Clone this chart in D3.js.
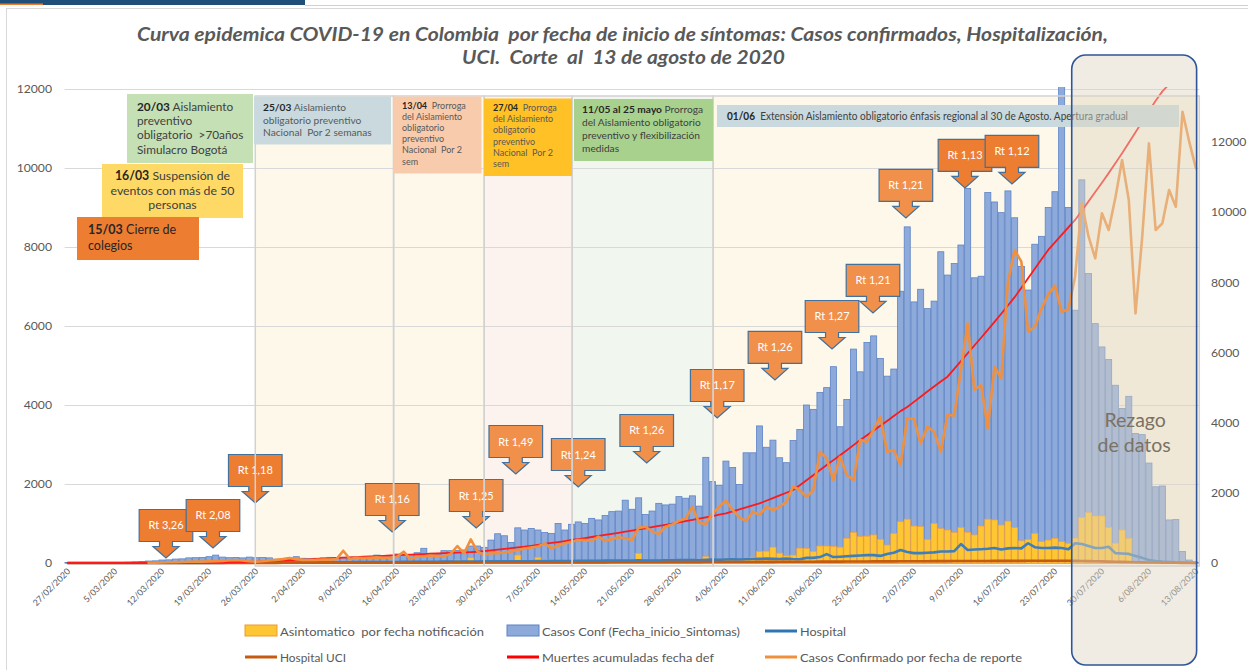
<!DOCTYPE html>
<html>
<head>
<meta charset="utf-8">
<script src="https://cdnjs.cloudflare.com/ajax/libs/d3/7.8.5/d3.min.js"></script>
<style>
  body { margin: 0; background: #fff; }
  svg { display: block; font-family: Lato, "Open Sans", sans-serif; }
</style>
</head>
<body>
<svg id="chart" width="1248" height="670"></svg>
<script>
// ---- datos (un valor por dia, 27/02/2020 .. 13/08/2020) ----
var fechaInicio = new Date(2020, 1, 27);
var numDias = 169;

var casosConf = [
  12, 0, 2, 1, 3, 4, 6, 10, 14, 20,
  28, 38, 50, 55, 76, 80, 100, 105, 130, 135,
  140, 160, 200, 150, 135, 140, 130, 150, 135, 140,
  130, 95, 90, 88, 160, 120, 115, 120, 130, 143,
  140, 145, 150, 148, 150, 155, 200, 177, 180, 228,
  200, 210, 260, 372, 245, 228, 312, 311, 320, 330,
  430, 430, 397, 580, 740, 690, 520, 890, 835, 875,
  835, 770, 750, 1000, 835, 980, 1040, 1000, 1130, 1090,
  1200, 1300, 1315, 1590, 1360, 1650, 1230, 1315, 1510, 1470,
  1490, 1680, 1640, 1700, 1440, 2675, 2060, 1960, 2580, 2420,
  1990, 2790, 2790, 3470, 2930, 3110, 2665, 2540, 3100, 3380,
  4000, 3890, 4320, 4440, 4970, 3450, 4140, 5415, 4840, 5585,
  5750, 5180, 4730, 4910, 6880, 8510, 6610, 6930, 6440, 6630,
  7880, 7290, 7580, 8050, 9480, 7220, 7260, 9380, 9140, 8870,
  9420, 8740, 7510, 6910, 8070, 8270, 9000, 9400, 12500, 9000,
  6400, 9700, 7330, 6060, 5470, 5150, 4500, 3910, 4220, 3280,
  3250, 2530, 1930, 1950, 1090, 1100, 290, 75, 20
];

var asintomaticos = [
  0, 0, 0, 0, 0, 0, 0, 0, 0, 0,
  0, 0, 0, 0, 0, 0, 0, 0, 0, 0,
  0, 0, 0, 0, 0, 0, 0, 0, 0, 0,
  0, 0, 0, 0, 0, 0, 0, 0, 0, 0,
  0, 0, 0, 0, 0, 0, 0, 0, 0, 0,
  5, 5, 5, 10, 5, 5, 10, 20, 80, 20,
  130, 40, 20, 60, 30, 40, 30, 200, 40, 50,
  145, 90, 40, 30, 40, 50, 60, 40, 50, 40,
  60, 50, 70, 60, 80, 245, 60, 50, 60, 70,
  60, 80, 70, 80, 60, 160, 70, 80, 100, 90,
  80, 120, 150, 290, 300, 400, 250, 180, 200, 375,
  370, 290, 430, 430, 420, 400, 625, 770, 670, 680,
  710, 600, 455, 750, 1045, 1110, 935, 920, 600, 1000,
  870, 835, 770, 900, 775, 710, 935, 1110, 1090, 960,
  1060, 895, 560, 600, 750, 540, 580, 625, 540, 500,
  630, 1155, 1275, 1190, 1190, 900, 500, 835, 625, 0,
  0, 0, 0, 0, 0, 0, 0, 0, 0
];

var hospital = [
  0, 0, 0, 0, 0, 0, 0, 0, 0, 0,
  0, 0, 0, 0, 0, 0, 0, 0, 0, 0,
  2, 3, 3, 4, 5, 5, 6, 7, 8, 8,
  10, 10, 12, 12, 14, 14, 15, 16, 16, 18,
  18, 20, 20, 22, 22, 24, 24, 25, 26, 26,
  28, 28, 30, 30, 32, 32, 34, 34, 36, 36,
  38, 38, 40, 40, 42, 42, 44, 44, 46, 46,
  48, 48, 50, 50, 52, 52, 54, 55, 56, 58,
  60, 60, 62, 62, 65, 68, 65, 62, 65, 68,
  70, 72, 75, 75, 70, 80, 85, 80, 90, 95,
  90, 95, 100, 105, 110, 105, 100, 110, 100, 95,
  130, 130, 150, 225, 150, 160, 170, 180, 190, 200,
  200, 180, 230, 260, 330, 280, 250, 250, 260, 270,
  290, 290, 300, 480, 330, 340, 350, 360, 380, 340,
  370, 380, 370, 500, 400, 380, 380, 390, 380, 350,
  500, 480, 430, 380, 380, 410, 250, 240, 230, 180,
  130, 75, 50, 35, 25, 15, 10, 5, 3
];

var hospitalUci = [
  0, 0, 0, 0, 0, 0, 0, 0, 0, 0,
  0, 0, 0, 0, 0, 0, 0, 0, 0, 0,
  1, 1, 1, 2, 2, 2, 3, 3, 3, 4,
  4, 4, 5, 5, 5, 5, 6, 6, 6, 6,
  7, 7, 7, 7, 8, 8, 8, 8, 9, 9,
  9, 9, 10, 10, 10, 10, 10, 11, 11, 11,
  11, 12, 12, 12, 12, 13, 13, 13, 13, 14,
  14, 14, 15, 15, 15, 16, 16, 16, 17, 17,
  17, 18, 18, 18, 19, 19, 20, 20, 20, 21,
  21, 22, 22, 23, 23, 24, 24, 25, 25, 26,
  26, 27, 27, 28, 28, 29, 30, 30, 31, 32,
  32, 33, 34, 35, 35, 36, 37, 38, 38, 39,
  40, 40, 41, 42, 43, 44, 44, 45, 46, 47,
  48, 48, 49, 50, 50, 51, 52, 52, 53, 54,
  54, 55, 55, 56, 56, 57, 57, 58, 58, 58,
  55, 52, 48, 44, 40, 36, 32, 28, 24, 20,
  17, 14, 11, 9, 7, 5, 4, 3, 2
];

var muertesAcum = [
  0, 0, 0, 0, 0, 0, 0, 0, 0, 0,
  0, 0, 0, 0, 0, 0, 0, 0, 1, 2,
  4, 6, 9, 12, 16, 20, 25, 30, 36, 42,
  48, 55, 62, 70, 78, 86, 94, 102, 110, 118,
  126, 134, 142, 150, 158, 166, 174, 182, 190, 198,
  206, 213, 220, 227, 234, 241, 248, 255, 262, 269,
  277, 285, 302, 320, 338, 356, 375, 394, 413, 436,
  459, 483, 507, 531, 556, 582, 607, 632, 658, 684,
  710, 737, 765, 793, 822, 851, 880, 909, 939, 968,
  998, 1028, 1058, 1089, 1122, 1155, 1189, 1223, 1258, 1307,
  1357, 1408, 1459, 1511, 1576, 1642, 1710, 1779, 1848, 1970,
  2095, 2223, 2355, 2480, 2605, 2730, 2855, 2985, 3114, 3235,
  3355, 3475, 3595, 3720, 3845, 3950, 4080, 4210, 4340, 4470,
  4595, 4717, 4915, 5112, 5310, 5507, 5703, 5900, 6105, 6310,
  6520, 6730, 6970, 7210, 7450, 7690, 7925, 8115, 8305, 8495,
  8685, 8920, 9155, 9390, 9625, 9870, 10120, 10373, 10640, 10905,
  11170, 11435, 11700, 11940, 12120, 12300, 12480, 12650, 12800
];

// casos por fecha de reporte (eje derecho); sin trazo antes del 10/03
var casosReporte = [
  null, null, null, null, null, null, null, null, null, null,
  null, null, 5, 10, 15, 20, 25, 30, 35, 40,
  40, 45, 50, 60, 80, 85, 70, 50, 40, 50,
  70, 90, 110, 140, 110, 90, 85, 90, 100, 95,
  110, 350, 110, 150, 140, 150, 160, 150, 150, 180,
  322, 114, 180, 190, 210, 200, 190, 260, 484, 276,
  675, 322, 228, 276, 280, 300, 330, 370, 410, 440,
  470, 560, 420, 493, 560, 607, 655, 655, 627, 750,
  630, 680, 732, 703, 655, 1000, 1034, 900, 826, 1034,
  1100, 1200, 1273, 1603, 1148, 1110, 1415, 1600, 1774, 1509,
  1300, 1196, 1461, 1367, 1603, 1509, 1600, 1746, 2173, 2080,
  1888, 2080, 3170, 2980, 2364, 3027, 2506, 2364, 3503, 3455,
  3800, 4167, 3170, 3218, 2791, 4121, 4100, 3409, 3882, 3739,
  3170, 4215, 4200, 5500, 6827, 4927, 5070, 3836, 5591, 5260,
  8012, 8914, 8581, 6588, 6730, 7250, 7650, 7900, 7157, 7225,
  8154, 10244, 9300, 8678, 9960, 9484, 10400, 11477, 10338, 7111,
  9293, 11950, 9484, 9675, 10623, 10147, 12853, 12000, 11240
];

var ticksIzq = [0, 2000, 4000, 6000, 8000, 10000, 12000];
var ticksDer = [0, 2000, 4000, 6000, 8000, 10000, 12000];

// flechas Rt: dia (desde 27/02) y nivel (eje izq.) de la punta
var rtTexto = ["Rt 3,26", "Rt 2,08", "Rt 1,18", "Rt 1,16", "Rt 1,25", "Rt 1,49", "Rt 1,24", "Rt 1,26",
  "Rt 1,17", "Rt 1,26", "Rt 1,27", "Rt 1,21", "Rt 1,21", "Rt 1,13", "Rt 1,12"];
var rtDia = [15.1, 22.1, 28.4, 48.8, 61.3, 67.2, 76.5, 86.7, 97.2, 105.8, 114.3, 120.4, 125.3, 134.1, 141.1];
var rtNivel = [127, 380, 1519, 785, 886, 2253, 1924, 2532, 3671, 4634, 5418, 6330, 8735, 9495, 9596];

// periodos sombreados (dias desde 27/02)
var periodoIni = [28.4, 49.0, 62.5, 75.6, 96.6];
var periodoFin = [49.0, 62.5, 75.6, 96.6, 169];
var rezagoIni = 150, rezagoFin = 168.6;

var leyenda = ["Asintomatico  por fecha notificación", "Casos Conf (Fecha_inicio_Sintomas)", "Hospital",
  "Hospital UCI", "Muertes acumuladas fecha def", "Casos Confirmado por fecha de reporte"];

// ---- escalas ----
var svg = d3.select("#chart");
var plotL = 64.6, plotR = 1199.3, yTop = 89, yBase = 563;
var fechas = d3.timeDay.range(fechaInicio, d3.timeDay.offset(fechaInicio, numDias));
var fmtFecha = d3.timeFormat("%-d/%m/%Y");

var x = d3.scaleBand().domain(d3.range(numDias)).range([plotL, plotR]).paddingInner(0.1).paddingOuter(0.05);
var xDia = d3.scaleLinear().domain([0, numDias]).range([plotL, plotR]);
var yL = d3.scaleLinear().domain([0, 12000]).range([yBase, yTop]);
var yR = d3.scaleLinear().domain([0, 13500]).range([yBase, yTop]);
function cx(i) { return x(i) + x.bandwidth() / 2; }

svg.append("defs").append("clipPath").attr("id", "plotClip")
  .append("rect").attr("x", plotL - 3).attr("y", 87).attr("width", plotR - plotL + 6).attr("height", 482);

// marco y barra superior
svg.append("rect").attr("x", 6.5).attr("y", 8.5).attr("width", 1260).attr("height", 680)
  .attr("fill", "none").attr("stroke", "#d9d9d9");
svg.append("rect").attr("x", 0).attr("y", 0).attr("width", 305).attr("height", 5).attr("fill", "#1f4e79");
svg.append("rect").attr("x", 0).attr("y", 3.5).attr("width", 43).attr("height", 1.5).attr("fill", "#ed7d31");
svg.append("line").attr("x1", 305).attr("x2", 1248).attr("y1", 5.5).attr("y2", 5.5).attr("stroke", "#d0d0d0");

// fondo de periodos
var colPeriodo = ["#fef8ea", "#fef8ea", "#fdf3ee", "#f1f6ee", "#fef8ea"];
svg.append("g").selectAll("rect").data(periodoIni).enter().append("rect")
  .attr("x", function (d) { return xDia(d); })
  .attr("y", 96)
  .attr("width", function (d, i) { return xDia(periodoFin[i]) - xDia(d); })
  .attr("height", yBase + 3 - 96)
  .attr("fill", function (d, i) { return colPeriodo[i]; });

// grilla
var grid = svg.append("g").attr("transform", "translate(" + plotL + ",0)")
  .call(d3.axisLeft(yL).tickValues(ticksIzq).tickSize(-(plotR - plotL)).tickFormat(""));
grid.select(".domain").remove();
grid.selectAll("line").attr("stroke", "#d9d9d9").attr("stroke-width", 1.2);

// barras
var gBars = svg.append("g").attr("clip-path", "url(#plotClip)");
gBars.selectAll("rect.conf").data(casosConf).enter().append("rect").attr("class", "conf")
  .attr("x", function (d, i) { return x(i); })
  .attr("y", function (d) { return yL(d); })
  .attr("width", x.bandwidth())
  .attr("height", function (d) { return yBase - yL(d); })
  .attr("display", function (d) { return d > 0 ? null : "none"; })
  .attr("fill", "#8eaadb").attr("stroke", "#5b83c6").attr("stroke-width", 0.8);
gBars.selectAll("rect.asin").data(asintomaticos).enter().append("rect").attr("class", "asin")
  .attr("x", function (d, i) { return x(i); })
  .attr("y", function (d) { return yL(d); })
  .attr("width", x.bandwidth())
  .attr("height", function (d) { return yBase - yL(d); })
  .attr("display", function (d) { return d > 0 ? null : "none"; })
  .attr("fill", "#ffc633").attr("stroke", "#f0a040").attr("stroke-width", 0.7);

// lineas
function linea(escala) {
  return d3.line()
    .defined(function (d) { return d !== null; })
    .x(function (d, i) { return cx(i); })
    .y(function (d) { return escala(d); });
}
var gLines = svg.append("g").attr("clip-path", "url(#plotClip)")
  .attr("fill", "none").attr("stroke-linejoin", "round").attr("stroke-linecap", "round");
gLines.append("path").attr("d", linea(yL)(hospital)).attr("stroke", "#3d7ebc").attr("stroke-width", 2.6);
gLines.append("path").attr("d", linea(yL)(hospitalUci)).attr("stroke", "#c55a11").attr("stroke-width", 2.6);
gLines.append("path").attr("d", linea(yL)(muertesAcum)).attr("stroke", "#ff1a1a").attr("stroke-width", 1.8);
gLines.append("path").attr("d", linea(yR)(casosReporte)).attr("stroke", "#f0903f").attr("stroke-width", 2.6);

// flechas Rt
var rtOscuro = [1, 1, 1, 0, 0, 0, 0, 0, 0, 0, 0, 0, 0, 1, 1];
function flecha(tx, ty) {
  var top = ty - 48.5, bot = ty - 16.5, head = ty - 11.5;
  return "M" + (tx - 26.8) + "," + top + "L" + (tx + 26.8) + "," + top + "L" + (tx + 26.8) + "," + bot +
    "L" + (tx + 6.5) + "," + bot + "L" + (tx + 6.5) + "," + head + "L" + (tx + 13) + "," + head +
    "L" + tx + "," + ty + "L" + (tx - 13) + "," + head + "L" + (tx - 6.5) + "," + head +
    "L" + (tx - 6.5) + "," + bot + "L" + (tx - 26.8) + "," + bot + "Z";
}
var gRt = svg.append("g");
var rt = gRt.selectAll("g").data(rtTexto).enter().append("g");
rt.append("path")
  .attr("d", function (d, i) { return flecha(xDia(rtDia[i]), yL(rtNivel[i])); })
  .attr("fill", function (d, i) { return rtOscuro[i] ? "#ed7d31" : "#f0904a"; })
  .attr("stroke", "#41719c").attr("stroke-width", 1.2);
rt.append("text")
  .attr("x", function (d, i) { return xDia(rtDia[i]); })
  .attr("y", function (d, i) { return yL(rtNivel[i]) - 28.5; })
  .attr("text-anchor", "middle").attr("font-size", 11).attr("fill", "#fff")
  .text(function (d) { return d; });

// bordes de los periodos
svg.append("g").selectAll("rect").data(periodoIni).enter().append("rect")
  .attr("x", function (d) { return xDia(d); })
  .attr("y", 96)
  .attr("width", function (d, i) { return xDia(periodoFin[i]) - xDia(d); })
  .attr("height", yBase + 3 - 96)
  .attr("fill", "none").attr("stroke", "#d2d2d2").attr("stroke-width", 1.5);

// cuadros de texto
var notas = [
  { x: 127, y: 94, w: 126, h: 69, fill: "#c5e0b4", size: 11.8, color: "#404040", tx: 137, y0: 111, lh: 14.2,
    lines: [[["20/03", 1], [" Aislamiento", 0]], [["preventivo", 0]], [["obligatorio  >70años", 0]], [["Simulacro Bogotá", 0]]] },
  { x: 102, y: 164, w: 141, h: 54, fill: "#ffd966", size: 12.3, color: "#404040", tx: 172.5, anchor: "middle", y0: 180, lh: 14.7,
    lines: [[["16/03", 1], [" Suspensión de", 0]], [["eventos con más de 50", 0]], [["personas", 0]]] },
  { x: 77, y: 217, w: 122, h: 43, fill: "#ed7d31", size: 12.5, color: "#262626", tx: 88, y0: 234, lh: 16,
    lines: [[["15/03", 1], [" Cierre de", 0]], [["colegios", 0]]] },
  { x: 254, y: 96.5, w: 137, h: 48, fill: "#c9d9dd", size: 10.2, color: "#595959", tx: 263, y0: 111, lh: 12.5,
    lines: [[["25/03", 1], [" Aislamiento", 0]], [["obligatorio preventivo", 0]], [["Nacional  Por 2 semanas", 0]]] },
  { x: 393.5, y: 96.5, w: 88, h: 77, fill: "#f8cbad", size: 9, color: "#595959", tx: 402, y0: 108.5, lh: 11.2,
    lines: [[["13/04", 1], ["  Prorroga", 0]], [["del Aislamiento", 0]], [["obligatorio", 0]], [["preventivo", 0]], [["Nacional  Por 2", 0]], [["sem", 0]]] },
  { x: 484, y: 98.5, w: 88, h: 77.5, fill: "#ffc125", size: 9, color: "#595959", tx: 493, y0: 110.7, lh: 11.3,
    lines: [[["27/04", 1], ["  Prorroga", 0]], [["del Aislamiento", 0]], [["obligatorio", 0]], [["preventivo", 0]], [["Nacional  Por 2", 0]], [["sem", 0]]] },
  { x: 574, y: 99, w: 139, h: 62, fill: "#a9d18e", size: 10.2, color: "#404040", tx: 582, y0: 113.3, lh: 13,
    lines: [[["11/05 al 25 mayo", 1], [" Prorroga", 0]], [["del Aislamiento obligatorio", 0]], [["preventivo y flexibilización", 0]], [["medidas", 0]]] },
  { x: 717, y: 105, w: 462, h: 22, fill: "#c9d9dd", size: 10.5, color: "#404040", tx: 727, y0: 120, lh: 0, fit: 401,
    lines: [[["01/06", 1], ["  Extensión Aislamiento obligatorio énfasis regional al 30 de Agosto. Apertura gradual", 0]]] }
];
var gNotas = svg.append("g");
notas.forEach(function (n) {
  gNotas.append("rect").attr("x", n.x).attr("y", n.y).attr("width", n.w).attr("height", n.h).attr("fill", n.fill);
  n.lines.forEach(function (line, k) {
    var t = gNotas.append("text").attr("x", n.tx).attr("y", n.y0 + k * n.lh)
      .attr("font-size", n.size).attr("fill", n.color)
      .attr("text-anchor", n.anchor || "start").style("white-space", "pre");
    if (n.fit) t.attr("textLength", n.fit).attr("lengthAdjust", "spacingAndGlyphs");
    line.forEach(function (seg) {
      t.append("tspan").attr("font-weight", seg[1] ? "bold" : null)
        .attr("fill", seg[1] ? "#262626" : null).text(seg[0]);
    });
  });
});

// ejes
var ejeIzq = svg.append("g").attr("transform", "translate(58,0)")
  .call(d3.axisLeft(yL).tickValues(ticksIzq).tickSize(0).tickPadding(6).tickFormat(d3.format("d")));
var ejeDer = svg.append("g").attr("transform", "translate(1206,0)")
  .call(d3.axisRight(yR).tickValues(ticksDer).tickSize(0).tickPadding(5).tickFormat(d3.format("d")));
[ejeIzq, ejeDer].forEach(function (g) {
  g.select(".domain").remove();
  g.selectAll("text").attr("font-size", 12.2).attr("fill", "#595959").attr("font-family", "Lato, sans-serif");
});
var ejeX = svg.append("g").attr("transform", "translate(0," + yBase + ")")
  .call(d3.axisBottom(x).tickValues(d3.range(0, numDias, 7)).tickSize(0)
    .tickFormat(function (i) { return fmtFecha(fechas[i]); }));
ejeX.select(".domain").remove();
ejeX.selectAll("text")
  .attr("y", 0).attr("dy", 0)
  .attr("transform", "translate(3,9) rotate(-45)")
  .style("text-anchor", "end")
  .attr("font-size", 8.8).attr("fill", "#595959").attr("font-family", "Lato, sans-serif");

// leyenda
var legPos = [[245, 631], [507, 631], [765, 631], [245, 657], [507, 657], [765, 657]];
var legAncho = [204, 198, 46, 66, 172, 222];
var legColor = ["#ffc633", "#8eaadb", "#2e75b6", "#c55a11", "#ff0000", "#f0903f"];
var legBorde = ["#ed9a30", "#5b83c6"];
var gLeg = svg.append("g");
leyenda.forEach(function (nombre, k) {
  var p = legPos[k];
  if (k < 2) {
    gLeg.append("rect").attr("x", p[0]).attr("y", p[1] - 6).attr("width", 32).attr("height", 11)
      .attr("fill", legColor[k]).attr("stroke", legBorde[k]).attr("stroke-width", 1);
  } else {
    gLeg.append("line").attr("x1", p[0]).attr("x2", p[0] + 32).attr("y1", p[1]).attr("y2", p[1])
      .attr("stroke", legColor[k]).attr("stroke-width", 3);
  }
  gLeg.append("text").attr("x", p[0] + 35).attr("y", p[1] + 4.5)
    .attr("font-size", 12).attr("fill", "#595959").style("white-space", "pre")
    .attr("textLength", legAncho[k]).attr("lengthAdjust", "spacingAndGlyphs")
    .text(nombre);
});

// zona de rezago
var rx0 = xDia(rezagoIni), rx1 = xDia(rezagoFin);
svg.append("rect").attr("x", rx0).attr("y", 55).attr("width", rx1 - rx0).attr("height", 610).attr("rx", 14)
  .attr("fill", "#ddd5c0").attr("fill-opacity", 0.45)
  .attr("stroke", "#2f5597").attr("stroke-width", 1.6);
svg.append("text").attr("x", (rx0 + rx1) / 2 + 1).attr("y", 427)
  .attr("text-anchor", "middle").attr("font-size", 19.5).attr("fill", "#7a7264").text("Rezago");
svg.append("text").attr("x", (rx0 + rx1) / 2).attr("y", 452)
  .attr("text-anchor", "middle").attr("font-size", 19.5).attr("fill", "#7a7264").text("de datos");

// titulo
svg.append("text").attr("x", 137).attr("y", 41)
  .attr("font-size", 19.5).attr("font-weight", "bold").attr("font-style", "italic").attr("fill", "#595959")
  .attr("textLength", 971).attr("lengthAdjust", "spacingAndGlyphs").style("white-space", "pre")
  .text("Curva epidemica COVID-19 en Colombia  por fecha de inicio de síntomas: Casos confirmados, Hospitalización,");
svg.append("text").attr("x", 462).attr("y", 64)
  .attr("font-size", 19.5).attr("font-weight", "bold").attr("font-style", "italic").attr("fill", "#595959")
  .attr("textLength", 323).attr("lengthAdjust", "spacingAndGlyphs").style("white-space", "pre")
  .text("UCI.  Corte  al  13 de agosto de 2020");
</script>
</body>
</html>
